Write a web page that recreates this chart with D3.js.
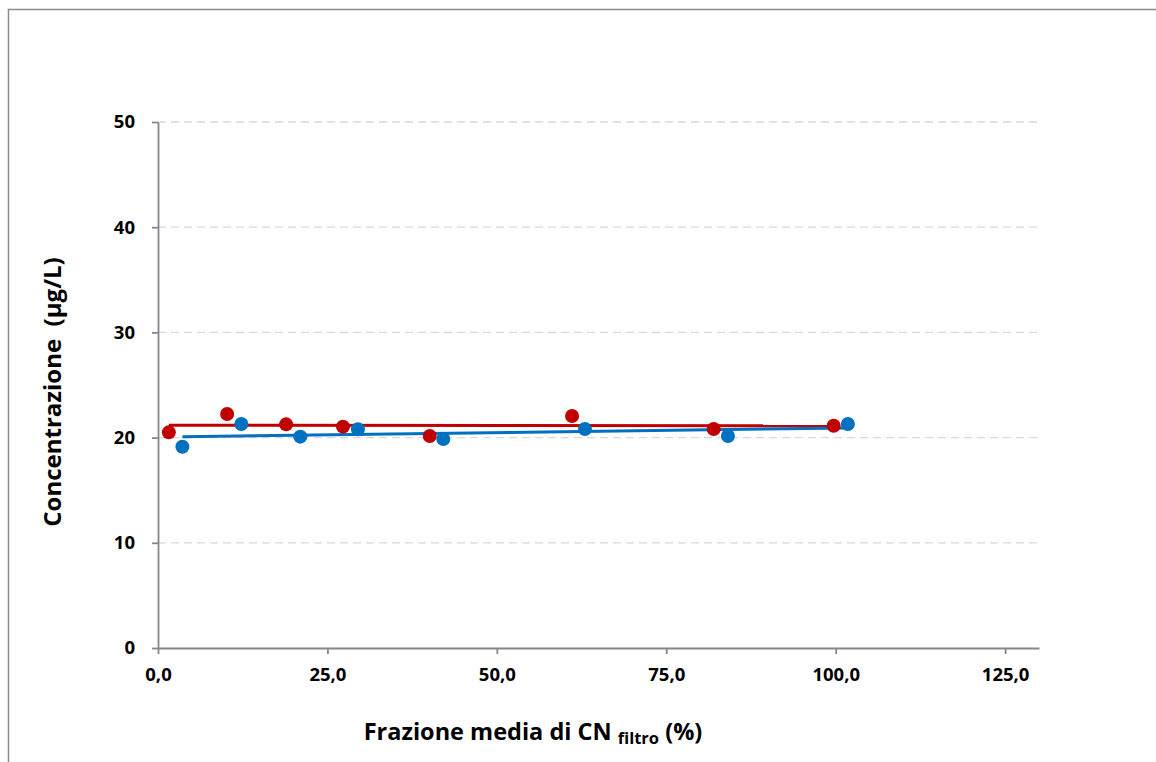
<!DOCTYPE html>
<html>
<head>
<meta charset="utf-8">
<script src="https://cdn.jsdelivr.net/npm/d3@7"></script>
<style>
  body { margin: 0; background: #fff; overflow: hidden; }
  svg { display: block; }
  svg text { font-family: "Open Sans", "DejaVu Sans", sans-serif; font-weight: 700; fill: #000; }
</style>
</head>
<body>
<svg></svg>
<script>
const w = 1156
const h = 762

// data
const redX = [1.6, 10.2, 18.9, 27.3, 40.1, 61.1, 82.0, 99.7]
const redY = [20.5, 22.24, 21.26, 21.04, 20.15, 22.05, 20.82, 21.13]
const blueX = [3.6, 12.3, 21.0, 29.5, 42.1, 63.0, 84.1, 101.8]
const blueY = [19.13, 21.29, 20.09, 20.79, 19.87, 20.82, 20.15, 21.29]
const xTicks = [0, 25, 50, 75, 100, 125]
const yTicks = [0, 10, 20, 30, 40, 50]

const svg = d3.select('svg')
  .attr('width', w)
  .attr('height', h);

// outer frame (only top and left visible)
svg.append('path')
  .attr('d', `M8.5,${h}V9.5H${w}`)
  .attr('fill', 'none')
  .attr('stroke', '#8c8c8c')
  .attr('stroke-width', 1.5);

const margin = {top: 122, left: 158, right: 117, bottom: 114};
const innerWidth = w - margin.left - margin.right;
const innerHeight = h - margin.top - margin.bottom;

const xScale = d3.scaleLinear().domain([0, 130]).range([0, innerWidth]);
const yScale = d3.scaleLinear().domain([0, 50]).range([innerHeight, 0]);

const g = svg.append('g')
  .attr('transform', `translate(${margin.left}, ${margin.top})`);

// gridlines
g.append('g').selectAll('line').data(yTicks.filter(d => d > 0))
  .enter().append('line')
  .attr('x1', 0).attr('x2', innerWidth)
  .attr('y1', d => yScale(d)).attr('y2', d => yScale(d))
  .attr('stroke', '#d9d9d9')
  .attr('stroke-width', 1.3)
  .attr('stroke-dasharray', '8,5');

const fmt = d => d3.format('.1f')(d).replace('.', ',');

const yAxisG = g.append('g').call(
  d3.axisLeft(yScale).tickValues(yTicks).tickSize(6).tickPadding(17).tickSizeOuter(0)
);

const xAxisG = g.append('g')
  .attr('transform', `translate(0, ${innerHeight})`)
  .call(d3.axisBottom(xScale).tickValues(xTicks).tickFormat(fmt).tickSize(6).tickPadding(14).tickSizeOuter(0));

[yAxisG, xAxisG].forEach(a => {
  a.selectAll('.domain, line').attr('stroke', '#878787').attr('stroke-width', 1.8);
  a.selectAll('text')
    .attr('font-size', '18.5px')
    .attr('font-family', '"Open Sans", sans-serif')
    .attr('font-weight', 700)
    .attr('fill', '#000');
});

// linear trend lines (least squares)
const fit = (xs, ys) => {
  const mx = d3.mean(xs), my = d3.mean(ys);
  const b = d3.sum(xs, (x, i) => (x - mx) * (ys[i] - my)) / d3.sum(xs, x => (x - mx) ** 2);
  const a = my - b * mx;
  return d3.extent(xs).map(x => [x, a + b * x]);
};

const line = d3.line().x(d => xScale(d[0])).y(d => yScale(d[1]));

const series = [
  {xs: redX, ys: redY, color: '#c00000'},
  {xs: blueX, ys: blueY, color: '#0070c0'}
];

series.forEach(s => {
  g.append('path')
    .attr('d', line(fit(s.xs, s.ys)))
    .attr('fill', 'none')
    .attr('stroke', s.color)
    .attr('stroke-width', 3);
});

series.forEach(s => {
  g.append('g').selectAll('circle').data(s.xs)
    .enter().append('circle')
    .attr('cx', d => xScale(d))
    .attr('cy', (d, i) => yScale(s.ys[i]))
    .attr('r', 7)
    .attr('fill', s.color);
});

// axis titles
const xt = svg.append('text')
  .attr('x', 533).attr('y', 740)
  .attr('text-anchor', 'middle')
  .attr('font-size', '23.5px');
xt.append('tspan').text('Frazione media di CN ');
xt.append('tspan').attr('font-size', '16.5px').attr('dy', 4).text('filtro');
xt.append('tspan').attr('dy', -4).text(' (%)');

svg.append('text')
  .attr('transform', 'translate(61, 392) rotate(-90)')
  .attr('text-anchor', 'middle')
  .attr('font-size', '24px')
  .style('white-space', 'pre')
  .text('Concentrazione  (µg/L)');
</script>
</body>
</html>
